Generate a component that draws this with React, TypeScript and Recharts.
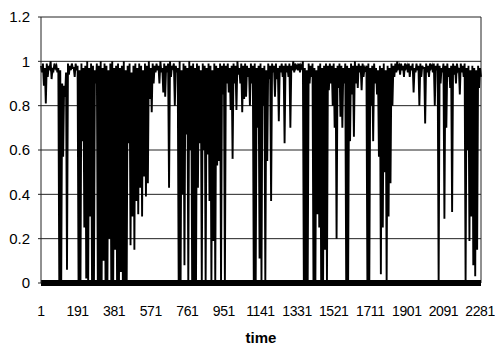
import { LineChart, Line, XAxis, YAxis, CartesianGrid, ReferenceLine } from "recharts";

// upper and lower envelope of the series, one pair per 10 time steps (t = 1, 11, 21, ...)
const hi = [
  0.98, 0.99, 0.97, 0.99, 0.98, 1.0, 0.97, 0.99, 0.98, 0.97,
  0.96, 0.9, 0.89, 0.95, 0.99, 0.98, 0.99, 0.97, 0.99, 0.98,
  0.96, 0.99, 0.97, 0.98, 1.0, 0.97, 0.99, 0.98, 0.96, 0.99,
  0.98, 1.0, 0.97, 0.99, 0.98, 0.96, 0.99, 1.0, 0.97, 0.98,
  0.99, 0.97, 0.98, 1.0, 0.96, 0.98, 0.99, 0.95, 0.98, 0.99,
  0.97, 0.99, 0.98, 0.96, 0.99, 0.98, 1.0, 0.97, 0.99, 0.98,
  0.99, 0.98, 1.0, 0.97, 0.99, 0.98, 0.99, 1.0, 0.98, 0.99,
  0.98, 0.97, 1.0, 0.96, 0.99, 0.98, 0.97, 1.0, 0.98, 0.99,
  0.97, 0.99, 0.98, 0.96, 0.99, 0.98, 0.97, 0.99, 0.98, 0.96,
  0.99, 0.98, 0.97, 0.99, 0.98, 0.99, 0.98, 0.99, 0.97, 0.98,
  0.99, 0.98, 1.0, 0.97, 0.99, 0.98, 0.99, 0.98, 0.97, 0.99,
  0.98, 0.99, 0.97, 0.98, 0.99, 0.97, 0.98, 0.96, 0.99, 0.98,
  0.99, 0.98, 0.99, 0.97, 0.98, 0.99, 0.98, 0.99, 0.98, 0.99,
  0.98, 1.0, 0.99, 0.98, 0.99, 0.98, 1.0, 0.97, 0.96, 0.99,
  0.98, 0.99, 0.97, 0.96, 0.98, 0.99, 0.97, 0.98, 0.99, 0.98,
  0.99, 0.98, 0.99, 0.97, 0.98, 0.99, 0.98, 0.97, 0.99, 0.98,
  0.97, 0.99, 0.98, 1.0, 0.98, 0.99, 0.98, 0.99, 0.97, 0.98,
  0.99, 0.97, 0.98, 0.99, 0.97, 0.96, 0.98, 0.97, 0.99, 0.96,
  0.98, 0.97, 0.99, 0.98, 0.99, 1.0, 0.98, 0.99, 0.98, 0.99,
  0.98, 0.99, 0.98, 0.99, 0.97, 0.99, 0.98, 0.99, 0.98, 0.97,
  0.99, 0.98, 0.99, 0.98, 0.99, 0.98, 0.99, 0.98, 0.97, 0.99,
  0.98, 0.99, 0.97, 0.98, 0.99, 0.98, 0.99, 0.97, 0.99, 0.98,
  0.99, 0.97, 0.98, 0.96, 0.98, 0.97, 0.96, 0.98, 0.97,
];

const lo = [
  0.95, 0.89, 0.81, 0.93, 0.97, 0.92, 0.96, 0.97, 0.95, 0,
  0, 0.57, 0.84, 0.06, 0.94, 0.96, 0.97, 0.93, 0.96, 0,
  0, 0.64, 0.25, 0.02, 0, 0.3, 0, 0, 0.9, 0,
  0, 0, 0.1, 0, 0, 0.2, 0, 0, 0.15, 0,
  0, 0.05, 0, 0, 0, 0.63, 0.17, 0.3, 0.15, 0.37,
  0.31, 0.43, 0.3, 0.48, 0.39, 0.45, 0.83, 0.77, 0.9, 0.95,
  0.96, 0.9, 0.95, 0.86, 0.84, 0.95, 0.43, 0.93, 0.97, 0.8,
  0.95, 0, 0, 0.4, 0.08, 0.67, 0, 0.6, 0, 0,
  0, 0.43, 0.63, 0, 0.6, 0, 0.58, 0.37, 0, 0.19,
  0, 0.53, 0.55, 0, 0.85, 0, 0.9, 0.86, 0.78, 0.56,
  0.9, 0.78, 0.94, 0.9, 0.77, 0.83, 0.84, 0.93, 0.8, 0.9,
  0, 0, 0.7, 0.11, 0, 0.8, 0, 0.55, 0.92, 0.37,
  0.95, 0.84, 0.92, 0.73, 0.95, 0.93, 0.63, 0.95, 0.93, 0.7,
  0.96, 0.95, 0.97, 0.96, 0.95, 0.97, 0, 0, 0, 0.9,
  0.93, 0, 0, 0.31, 0.25, 0, 0, 0.15, 0, 0.87,
  0.9, 0.8, 0.7, 0.2, 0.88, 0.75, 0.7, 0.9, 0, 0,
  0.64, 0.85, 0.66, 0.9, 0.88, 0.95, 0.87, 0.93, 0.96, 0,
  0, 0.8, 0.64, 0.9, 0.85, 0.57, 0.04, 0.25, 0.5, 0,
  0.3, 0.45, 0.8, 0.93, 0.95, 0.97, 0.94, 0.96, 0.93, 0.97,
  0.95, 0.93, 0.96, 0.86, 0.95, 0.96, 0.8, 0.93, 0.97, 0.72,
  0.95, 0.93, 0.97, 0.95, 0.8, 0.96, 0, 0.9, 0.95, 0.29,
  0.7, 0.93, 0.88, 0.32, 0.94, 0.9, 0.96, 0.85, 0.95, 0.93,
  0, 0.6, 0.19, 0.3, 0.08, 0.03, 0.15, 0.88, 0.93,
];

const xTicks = [1, 191, 381, 571, 761, 951, 1141, 1331, 1521, 1711, 1901, 2091, 2281];
const yTicks = [0, 0.2, 0.4, 0.6, 0.8, 1, 1.2];
const tMax = 2286;

const data = hi.flatMap((h, i) => [
  { t: 1 + 10 * i, v: h },
  { t: 6 + 10 * i, v: lo[i] },
]);

const font = "'Liberation Sans', Arial, sans-serif";

export default function App() {
  return (
    <div style={{ position: "absolute", left: 0, top: 0, fontFamily: font }}>
      <LineChart width={495} height={347} data={data} margin={{ top: 17, right: 14, bottom: 0, left: 0 }}>
        <CartesianGrid horizontal vertical={false} stroke="#222" />
        <XAxis
          dataKey="t"
          type="number"
          domain={[1, tMax]}
          ticks={xTicks}
          interval={0}
          height={64}
          tickLine={false}
          tickMargin={17}
          axisLine={{ stroke: "#000", strokeWidth: 6 }}
          tick={{ fill: "#000", fontSize: 14, letterSpacing: -0.4, fontFamily: font }}
          label={{ value: "time", position: "insideBottom", offset: 4, fill: "#000", fontSize: 15, fontWeight: "bold", fontFamily: font }}
        />
        <YAxis
          type="number"
          domain={[0, 1.2]}
          ticks={yTicks}
          width={41}
          tickSize={3}
          tickMargin={8}
          axisLine={{ stroke: "#222" }}
          tickLine={{ stroke: "#222" }}
          tick={{ fill: "#000", fontSize: 15, fontFamily: font }}
        />
        <ReferenceLine x={tMax} stroke="#222" />
        <Line
          type="linear"
          dataKey="v"
          stroke="#000"
          strokeWidth={1.9}
          dot={false}
          isAnimationActive={false}
        />
      </LineChart>
    </div>
  );
}
